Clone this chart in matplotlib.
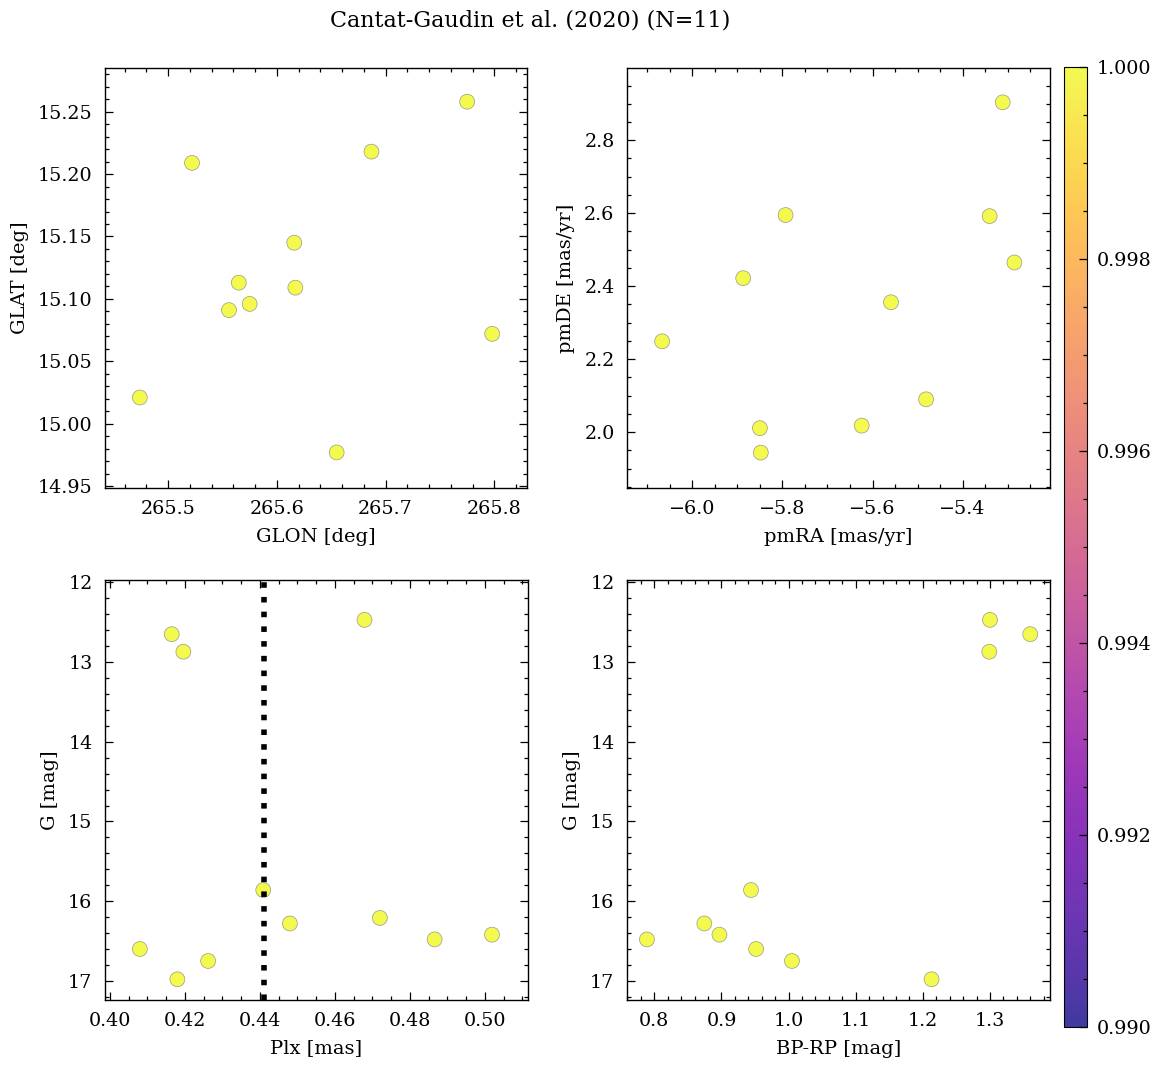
import numpy as np
import matplotlib
matplotlib.use('Agg')
import matplotlib.pyplot as plt

# members of the cluster (Cantat-Gaudin et al. 2020)
glon = [265.474, 265.522, 265.687, 265.775, 265.616, 265.617,
        265.565, 265.575, 265.556, 265.798, 265.655]
glat = [15.021, 15.209, 15.218, 15.258, 15.145, 15.109,
        15.113, 15.096, 15.091, 15.072, 14.977]
pmra = [-5.311, -5.340, -5.285, -5.793, -5.887, -5.559,
        -6.067, -5.481, -5.624, -5.850, -5.848]
pmde = [2.904, 2.592, 2.465, 2.595, 2.422, 2.356,
        2.249, 2.090, 2.018, 2.011, 1.944]
plx = [0.4679, 0.4165, 0.4196, 0.4409, 0.4480, 0.4720,
       0.4866, 0.5019, 0.4080, 0.4262, 0.4180]
gmag = [12.47, 12.65, 12.87, 15.86, 16.28, 16.21,
        16.48, 16.42, 16.60, 16.75, 16.98]
bp_rp = [1.300, 1.360, 1.299, 0.944, 0.8745, np.nan,
         0.789, 0.897, 0.9516, 1.005, 1.213]
proba = [1.0] * 11
plx_line = 0.441

plt.rcParams['font.family'] = ['DejaVu Serif']
plt.rcParams['font.size'] = 14
plt.rcParams['mathtext.fontset'] = 'dejavuserif'
plt.rcParams['axes.labelpad'] = 6.5

fig = plt.figure(figsize=(11.61, 10.67), dpi=100)

W, H = 1161, 1067
def px_axes(x0, y0, x1, y1):
    return fig.add_axes([x0 / W, 1 - y1 / H, (x1 - x0) / W, (y1 - y0) / H])

ax1 = px_axes(105, 68, 527, 488)
ax2 = px_axes(627, 68, 1050, 488)
ax3 = px_axes(105, 580, 528, 1000)
ax4 = px_axes(627, 580, 1050, 1000)
cax = px_axes(1064, 67, 1087, 1027)

kw = dict(c=proba, cmap='plasma', vmin=0.99, vmax=1.0, s=115,
          alpha=0.8, edgecolors='grey', linewidths=0.5, zorder=3)

sc = ax1.scatter(glon, glat, **kw)
ax1.set_xlabel('GLON [deg]')
ax1.set_ylabel('GLAT [deg]')
ax1.set_xlim(265.442, 265.830)
ax1.set_ylim(14.9485, 15.285)

ax2.scatter(pmra, pmde, **kw)
ax2.set_xlabel('pmRA [mas/yr]')
ax2.set_ylabel('pmDE [mas/yr]')
ax2.set_xlim(-6.145, -5.206)
ax2.set_ylim(1.847, 2.998)

ax3.scatter(plx, gmag, **kw)
ax3.axvline(plx_line, color='k', ls=':', lw=4, zorder=4)
ax3.set_xlabel('Plx [mas]')
ax3.set_ylabel('G [mag]')
ax3.set_xlim(0.3987, 0.5115)
ax3.set_ylim(17.24, 11.97)

ax4.scatter(bp_rp, gmag, **kw)
ax4.set_xlabel('BP-RP [mag]')
ax4.set_ylabel('G [mag]')
ax4.set_xlim(0.7593, 1.3894)
ax4.set_ylim(17.24, 11.97)

for ax in [ax1, ax2, ax3, ax4]:
    ax.minorticks_on()
    ax.tick_params(which='both', direction='in', top=True, right=True,
                   width=0.9, pad=9, labelsize=13.8)
    ax.tick_params(which='major', length=5.5)
    ax.tick_params(which='minor', length=3)
    for sp in ax.spines.values():
        sp.set_linewidth(1.0)

cb = fig.colorbar(sc, cax=cax)
cb.solids.set_alpha(0.8)
cb.set_ticks([0.990, 0.992, 0.994, 0.996, 0.998, 1.000])
cb.ax.yaxis.set_major_formatter(matplotlib.ticker.FormatStrFormatter('%.3f'))
cb.ax.minorticks_on()
cb.ax.tick_params(which='both', direction='in', width=0.9, pad=7, labelsize=13.8)
cb.ax.tick_params(which='major', length=5.5)
cb.ax.tick_params(which='minor', length=3)

fig.text(530 / W, 1 - 20 / H, 'Cantat-Gaudin et al. (2020) (N=11)',
         ha='center', va='center', fontsize=16)

fig.savefig('out.png', dpi=100)
